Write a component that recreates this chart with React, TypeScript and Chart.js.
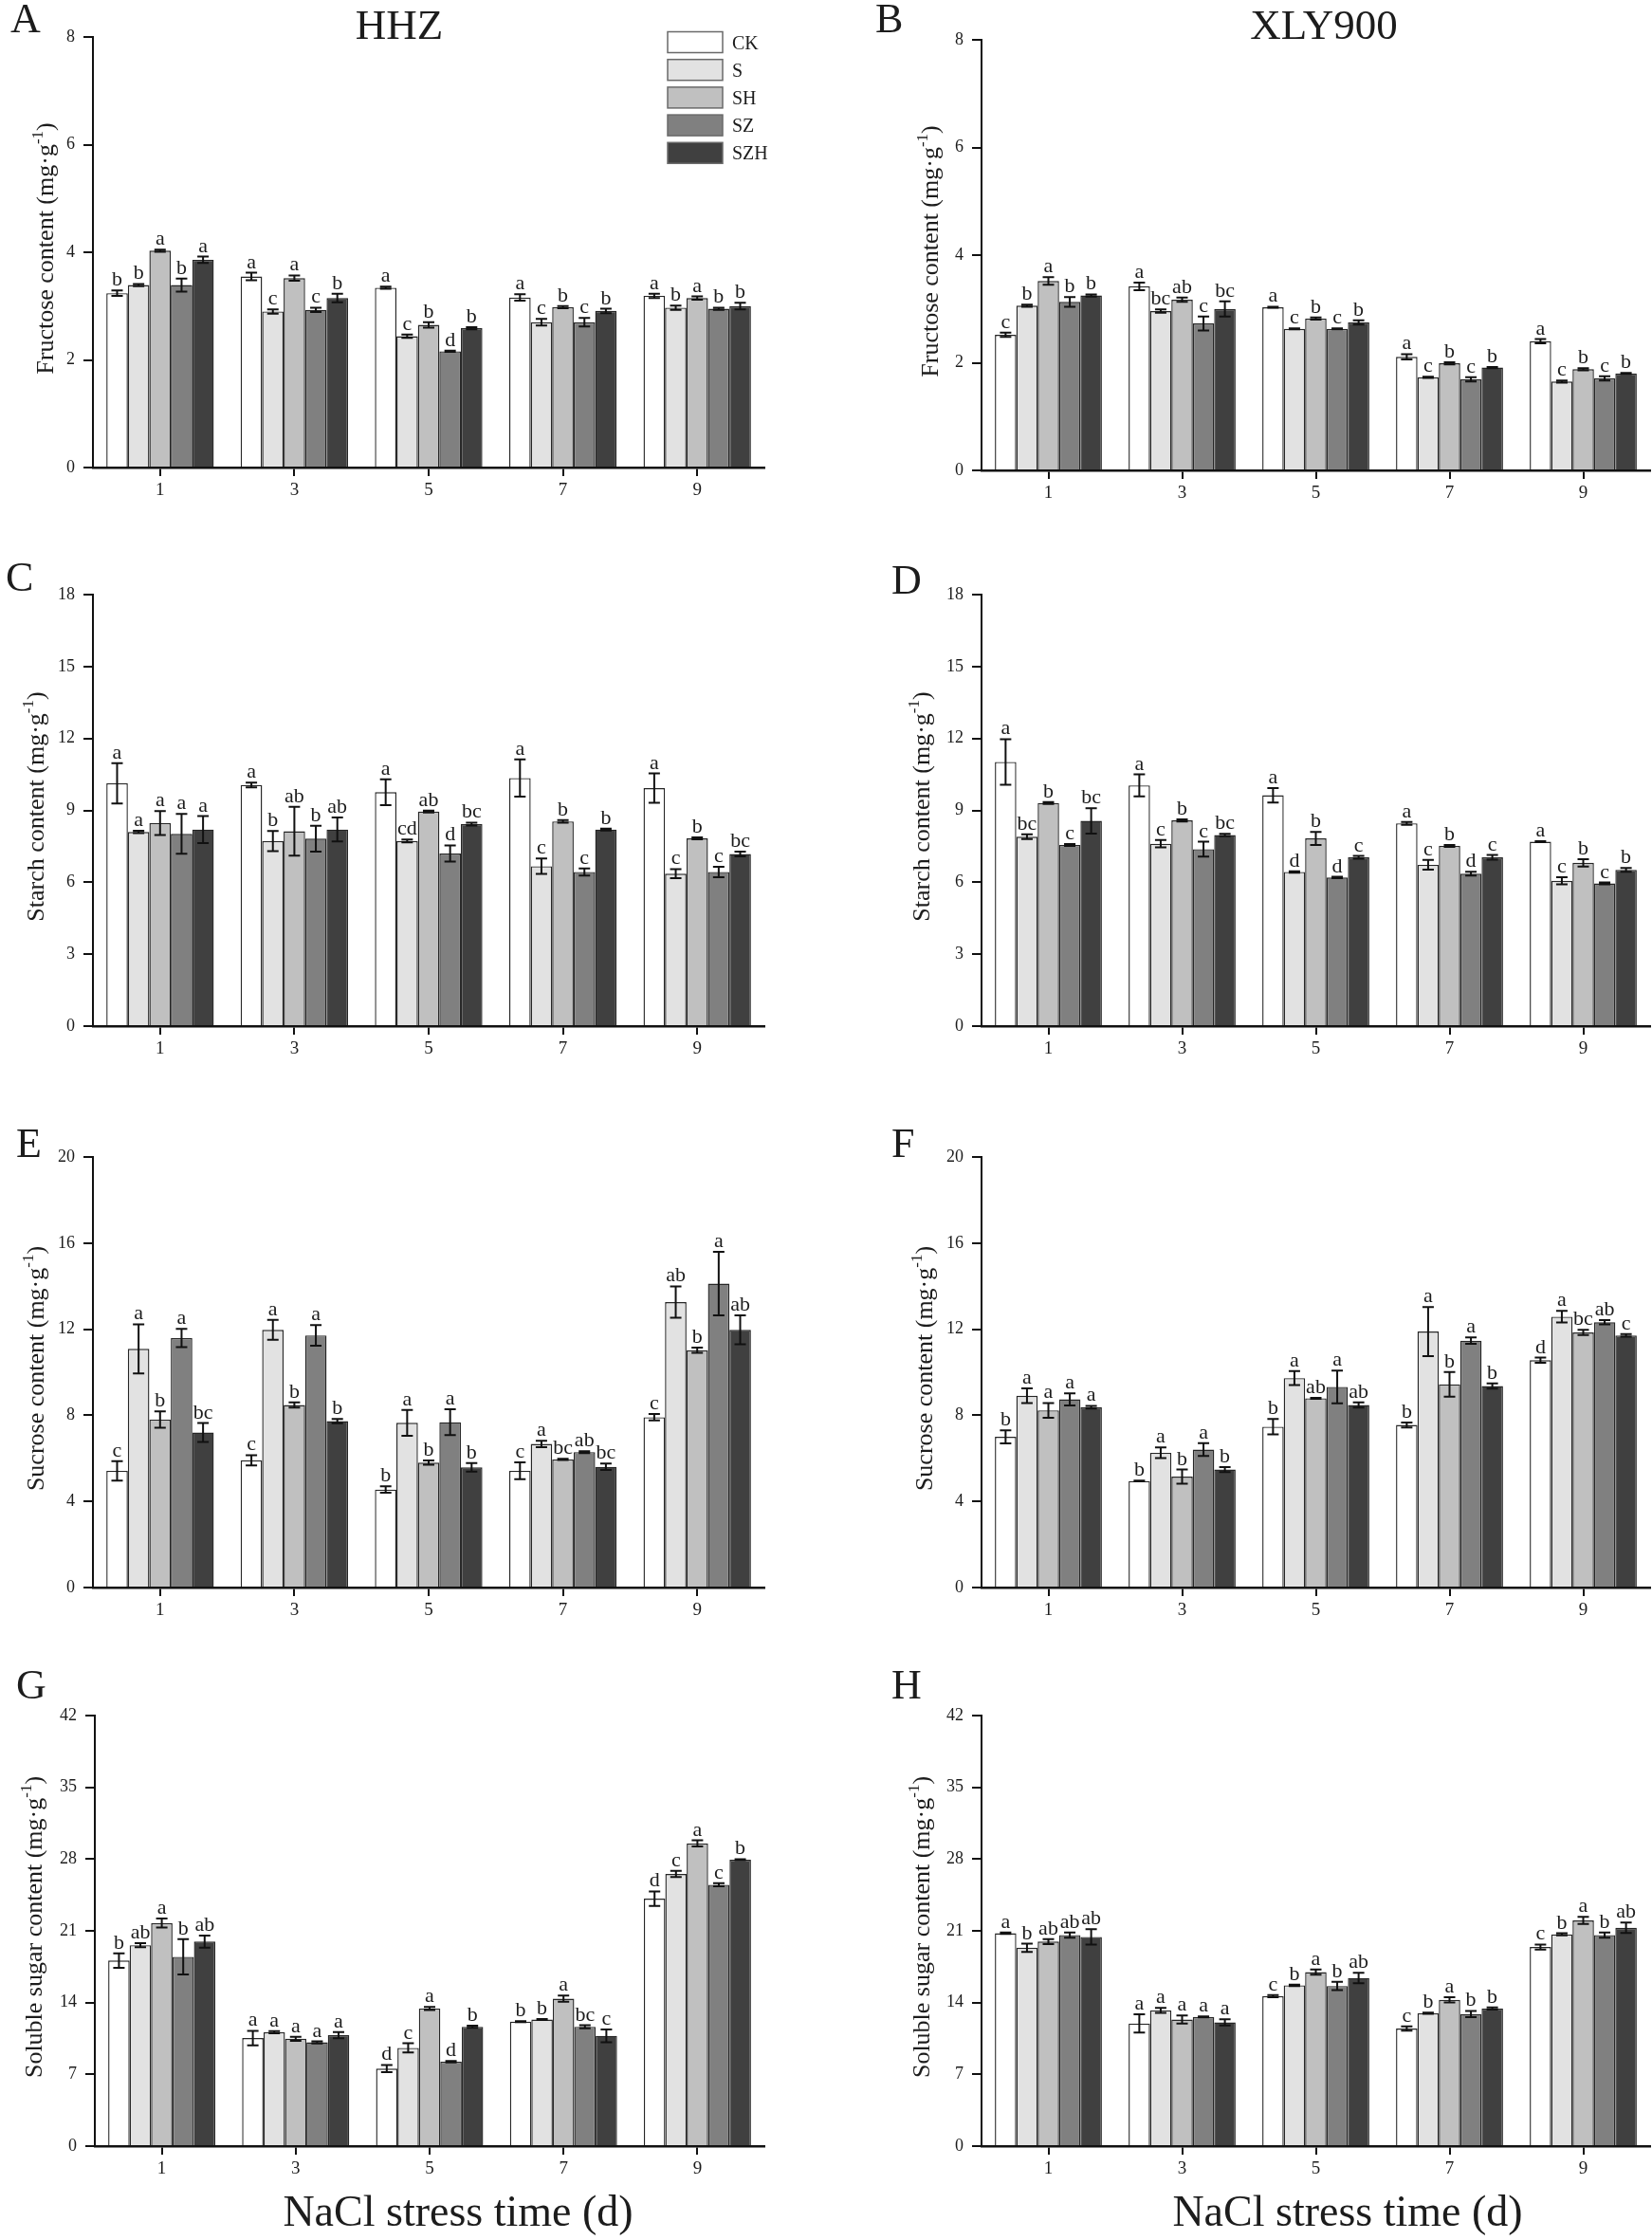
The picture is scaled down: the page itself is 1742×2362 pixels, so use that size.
import React, { useEffect, useRef } from 'react';
import { Chart, registerables } from 'chart.js';

Chart.register(...registerables);

const FONT = '"Liberation Serif", "Times New Roman", serif';

// ---------- categories / series ----------
const days = ['1', '3', '5', '7', '9'];
const treatments = ['CK', 'S', 'SH', 'SZ', 'SZH'];
const barColors = ['#ffffff', '#e2e2e2', '#c0c0c0', '#808080', '#404040'];

// ---------- A: HHZ fructose (rows = CK, S, SH, SZ, SZH; cols = day 1,3,5,7,9) ----------
const fructoseHHZ = [
  [3.24, 3.55, 3.34, 3.16, 3.19],
  [3.39, 2.90, 2.44, 2.70, 2.97],
  [4.03, 3.52, 2.65, 2.98, 3.15],
  [3.39, 2.93, 2.16, 2.70, 2.95],
  [3.86, 3.15, 2.59, 2.91, 3.00],
];
const fructoseHHZErr = [
  [0.05, 0.07, 0.02, 0.06, 0.04],
  [0.02, 0.04, 0.03, 0.06, 0.04],
  [0.02, 0.05, 0.05, 0.02, 0.03],
  [0.12, 0.04, 0.01, 0.08, 0.02],
  [0.06, 0.08, 0.02, 0.04, 0.06],
];
const fructoseHHZSig = [
  ['b', 'a', 'a', 'a', 'a'],
  ['b', 'c', 'c', 'c', 'b'],
  ['a', 'a', 'b', 'b', 'a'],
  ['b', 'c', 'd', 'c', 'b'],
  ['a', 'b', 'b', 'b', 'b'],
];

// ---------- B: XLY900 fructose ----------
const fructoseXLY = [
  [2.52, 3.42, 3.03, 2.11, 2.40],
  [3.06, 2.96, 2.63, 1.73, 1.65],
  [3.52, 3.17, 2.82, 1.99, 1.88],
  [3.13, 2.73, 2.63, 1.69, 1.71],
  [3.25, 3.00, 2.75, 1.91, 1.80],
];
const fructoseXLYErr = [
  [0.04, 0.07, 0.01, 0.05, 0.04],
  [0.02, 0.03, 0.01, 0.01, 0.02],
  [0.07, 0.04, 0.02, 0.02, 0.02],
  [0.09, 0.13, 0.01, 0.04, 0.04],
  [0.02, 0.14, 0.04, 0.01, 0.01],
];
const fructoseXLYSig = [
  ['c', 'a', 'a', 'a', 'a'],
  ['b', 'bc', 'c', 'c', 'c'],
  ['a', 'ab', 'b', 'b', 'b'],
  ['b', 'c', 'c', 'c', 'c'],
  ['b', 'bc', 'b', 'b', 'b'],
];

// ---------- C: HHZ starch ----------
const starchHHZ = [
  [10.13, 10.06, 9.76, 10.35, 9.93],
  [8.10, 7.72, 7.72, 6.67, 6.36],
  [8.47, 8.13, 8.95, 8.54, 7.83],
  [8.02, 7.82, 7.20, 6.43, 6.43],
  [8.20, 8.20, 8.43, 8.20, 7.18],
];
const starchHHZErr = [
  [0.84, 0.10, 0.54, 0.78, 0.61],
  [0.05, 0.42, 0.06, 0.32, 0.19],
  [0.50, 1.02, 0.04, 0.05, 0.04],
  [0.83, 0.54, 0.34, 0.15, 0.22],
  [0.56, 0.50, 0.06, 0.04, 0.10],
];
const starchHHZSig = [
  ['a', 'a', 'a', 'a', 'a'],
  ['a', 'b', 'cd', 'c', 'c'],
  ['a', 'ab', 'ab', 'b', 'b'],
  ['a', 'b', 'd', 'c', 'c'],
  ['a', 'ab', 'bc', 'b', 'bc'],
];

// ---------- D: XLY900 starch ----------
const starchXLY = [
  [11.02, 10.04, 9.63, 8.46, 7.69],
  [7.90, 7.61, 6.43, 6.73, 6.06],
  [9.31, 8.58, 7.83, 7.52, 6.81],
  [7.56, 7.38, 6.20, 6.36, 5.95],
  [8.56, 7.97, 7.04, 7.04, 6.52],
];
const starchXLYErr = [
  [0.95, 0.46, 0.30, 0.06, 0.02],
  [0.10, 0.15, 0.03, 0.20, 0.15],
  [0.04, 0.04, 0.27, 0.04, 0.15],
  [0.04, 0.31, 0.03, 0.08, 0.04],
  [0.53, 0.05, 0.06, 0.10, 0.08],
];
const starchXLYSig = [
  ['a', 'a', 'a', 'a', 'a'],
  ['bc', 'c', 'd', 'c', 'c'],
  ['b', 'b', 'b', 'b', 'b'],
  ['c', 'c', 'd', 'd', 'c'],
  ['bc', 'bc', 'c', 'c', 'b'],
];

// ---------- E: HHZ sucrose ----------
const sucroseHHZ = [
  [5.42, 5.91, 4.55, 5.42, 7.91],
  [11.09, 11.97, 7.65, 6.67, 13.26],
  [7.80, 8.48, 5.80, 5.95, 11.02],
  [11.59, 11.71, 7.68, 6.29, 14.12],
  [7.20, 7.73, 5.58, 5.61, 11.97],
];
const sucroseHHZErr = [
  [0.45, 0.24, 0.15, 0.39, 0.15],
  [1.14, 0.46, 0.60, 0.15, 0.73],
  [0.38, 0.12, 0.10, 0.03, 0.12],
  [0.42, 0.48, 0.60, 0.04, 1.48],
  [0.44, 0.10, 0.20, 0.15, 0.67],
];
const sucroseHHZSig = [
  ['c', 'c', 'b', 'c', 'c'],
  ['a', 'a', 'a', 'a', 'ab'],
  ['b', 'b', 'b', 'bc', 'b'],
  ['a', 'a', 'a', 'ab', 'a'],
  ['bc', 'b', 'b', 'bc', 'ab'],
];

// ---------- F: XLY900 sucrose ----------
const sucroseXLY = [
  [7.00, 4.95, 7.47, 7.55, 10.56],
  [8.91, 6.26, 9.73, 11.89, 12.58],
  [8.23, 5.15, 8.79, 9.44, 11.85],
  [8.74, 6.41, 9.32, 11.47, 12.32],
  [8.38, 5.48, 8.48, 9.36, 11.71],
];
const sucroseXLYErr = [
  [0.30, 0.02, 0.36, 0.12, 0.12],
  [0.34, 0.25, 0.33, 1.14, 0.27],
  [0.34, 0.33, 0.02, 0.57, 0.12],
  [0.28, 0.30, 0.76, 0.15, 0.10],
  [0.06, 0.12, 0.12, 0.12, 0.06],
];
const sucroseXLYSig = [
  ['b', 'b', 'b', 'b', 'd'],
  ['a', 'a', 'a', 'a', 'a'],
  ['a', 'b', 'ab', 'b', 'bc'],
  ['a', 'a', 'a', 'a', 'ab'],
  ['a', 'b', 'ab', 'b', 'c'],
];

// ---------- G: HHZ soluble sugar ----------
const sugarHHZ = [
  [18.10, 10.54, 7.56, 12.14, 24.14],
  [19.60, 11.11, 9.58, 12.35, 26.55],
  [21.76, 10.47, 13.42, 14.38, 29.53],
  [18.46, 10.12, 8.24, 11.64, 25.49],
  [19.95, 10.83, 11.64, 10.76, 27.94],
];
const sugarHHZErr = [
  [0.71, 0.71, 0.35, 0.05, 0.71],
  [0.20, 0.10, 0.45, 0.05, 0.30],
  [0.44, 0.20, 0.15, 0.30, 0.30],
  [1.72, 0.10, 0.07, 0.15, 0.15],
  [0.59, 0.30, 0.10, 0.62, 0.05],
];
const sugarHHZSig = [
  ['b', 'a', 'd', 'b', 'd'],
  ['ab', 'a', 'c', 'b', 'c'],
  ['a', 'a', 'a', 'a', 'a'],
  ['b', 'a', 'd', 'bc', 'c'],
  ['ab', 'a', 'b', 'c', 'b'],
];

// ---------- H: XLY900 soluble sugar ----------
const sugarXLY = [
  [20.77, 11.96, 14.63, 11.47, 19.42],
  [19.35, 13.24, 15.69, 12.96, 20.66],
  [19.95, 12.35, 16.97, 14.27, 22.01],
  [20.59, 12.60, 15.62, 12.89, 20.59],
  [20.41, 12.07, 16.40, 13.42, 21.30],
];
const sugarXLYErr = [
  [0.07, 0.89, 0.10, 0.20, 0.25],
  [0.40, 0.25, 0.07, 0.05, 0.10],
  [0.25, 0.40, 0.25, 0.25, 0.35],
  [0.25, 0.05, 0.40, 0.30, 0.25],
  [0.76, 0.30, 0.50, 0.10, 0.50],
];
const sugarXLYSig = [
  ['a', 'a', 'c', 'c', 'c'],
  ['b', 'a', 'b', 'b', 'b'],
  ['ab', 'a', 'a', 'a', 'a'],
  ['ab', 'a', 'b', 'b', 'b'],
  ['ab', 'a', 'ab', 'b', 'ab'],
];

// ---------- axis settings ----------
const yMaxFructose = 8, yStepFructose = 2;
const yMaxStarch = 18, yStepStarch = 3;
const yMaxSucrose = 20, yStepSucrose = 4;
const yMaxSugar = 42, yStepSugar = 7;

const xAxisTitle = 'NaCl stress time (d)';
const unitMain = ' (mg·g';
const unitSup = '-1';
const unitEnd = ')';

type Box = { l: number; t: number; r: number; b: number };
type PanelCfg = {
  tag: string;
  title?: string;
  yLabel: string;
  yMax: number;
  yStep: number;
  values: number[][];
  errors: number[][];
  sig: string[][];
  canvas: { x: number; y: number; w: number; h: number };
  plot: Box;
  tagPos: { x: number; y: number };
  titlePos?: { x: number; y: number };
  yTitleX: number;
  xTitlePos?: { x: number; y: number };
  legend?: boolean;
};

const panels: PanelCfg[] = [
  {
    tag: 'A', title: 'HHZ', yLabel: 'Fructose content', yMax: yMaxFructose, yStep: yStepFructose,
    values: fructoseHHZ, errors: fructoseHHZErr, sig: fructoseHHZSig,
    canvas: { x: 0, y: 0, w: 870, h: 560 }, plot: { l: 98, t: 39, r: 806, b: 493 },
    tagPos: { x: 11, y: 34 }, titlePos: { x: 421, y: 41 }, yTitleX: 47, legend: true,
  },
  {
    tag: 'B', title: 'XLY900', yLabel: 'Fructose content', yMax: yMaxFructose, yStep: yStepFructose,
    values: fructoseXLY, errors: fructoseXLYErr, sig: fructoseXLYSig,
    canvas: { x: 870, y: 0, w: 872, h: 560 }, plot: { l: 1035, t: 42, r: 1740, b: 496 },
    tagPos: { x: 923, y: 34 }, titlePos: { x: 1396, y: 41 }, yTitleX: 980,
  },
  {
    tag: 'C', yLabel: 'Starch content', yMax: yMaxStarch, yStep: yStepStarch,
    values: starchHHZ, errors: starchHHZErr, sig: starchHHZSig,
    canvas: { x: 0, y: 560, w: 870, h: 580 }, plot: { l: 98, t: 627, r: 806, b: 1082 },
    tagPos: { x: 6, y: 623 }, yTitleX: 37,
  },
  {
    tag: 'D', yLabel: 'Starch content', yMax: yMaxStarch, yStep: yStepStarch,
    values: starchXLY, errors: starchXLYErr, sig: starchXLYSig,
    canvas: { x: 870, y: 560, w: 872, h: 580 }, plot: { l: 1035, t: 627, r: 1740, b: 1082 },
    tagPos: { x: 940, y: 626 }, yTitleX: 971,
  },
  {
    tag: 'E', yLabel: 'Sucrose content', yMax: yMaxSucrose, yStep: yStepSucrose,
    values: sucroseHHZ, errors: sucroseHHZErr, sig: sucroseHHZSig,
    canvas: { x: 0, y: 1140, w: 870, h: 590 }, plot: { l: 98, t: 1220, r: 806, b: 1674 },
    tagPos: { x: 17, y: 1220 }, yTitleX: 37,
  },
  {
    tag: 'F', yLabel: 'Sucrose content', yMax: yMaxSucrose, yStep: yStepSucrose,
    values: sucroseXLY, errors: sucroseXLYErr, sig: sucroseXLYSig,
    canvas: { x: 870, y: 1140, w: 872, h: 590 }, plot: { l: 1035, t: 1220, r: 1740, b: 1674 },
    tagPos: { x: 940, y: 1220 }, yTitleX: 974,
  },
  {
    tag: 'G', yLabel: 'Soluble sugar content', yMax: yMaxSugar, yStep: yStepSugar,
    values: sugarHHZ, errors: sugarHHZErr, sig: sugarHHZSig,
    canvas: { x: 0, y: 1730, w: 870, h: 632 }, plot: { l: 100, t: 1809, r: 806, b: 2263 },
    tagPos: { x: 17, y: 1791 }, yTitleX: 35, xTitlePos: { x: 483, y: 2347 },
  },
  {
    tag: 'H', yLabel: 'Soluble sugar content', yMax: yMaxSugar, yStep: yStepSugar,
    values: sugarXLY, errors: sugarXLYErr, sig: sugarXLYSig,
    canvas: { x: 870, y: 1730, w: 872, h: 632 }, plot: { l: 1035, t: 1809, r: 1740, b: 2263 },
    tagPos: { x: 940, y: 1791 }, yTitleX: 971, xTitlePos: { x: 1421, y: 2347 },
  },
];

const INK = '#1c1c1c';

function makeDecor(p: PanelCfg) {
  const ox = p.canvas.x;
  const oy = p.canvas.y;
  return {
    id: 'decor' + p.tag,
    afterDatasetsDraw(chart: any) {
      const ctx = chart.ctx;
      const ys = chart.scales.y;
      ctx.save();
      ctx.strokeStyle = '#111';
      ctx.lineWidth = 2;
      ctx.fillStyle = INK;
      ctx.font = `22px ${FONT}`;
      ctx.textAlign = 'center';
      ctx.textBaseline = 'alphabetic';
      p.values.forEach((row, di) => {
        const meta = chart.getDatasetMeta(di);
        row.forEach((v, i) => {
          const bar = meta.data[i];
          if (!bar) return;
          const x = bar.x;
          const e = p.errors[di][i];
          const yt = ys.getPixelForValue(v + e);
          const yb = ys.getPixelForValue(v - e);
          const cap = 6;
          ctx.beginPath();
          ctx.moveTo(x, yt);
          ctx.lineTo(x, yb);
          ctx.moveTo(x - cap, yt);
          ctx.lineTo(x + cap, yt);
          ctx.moveTo(x - cap, yb);
          ctx.lineTo(x + cap, yb);
          ctx.stroke();
          ctx.fillText(p.sig[di][i], x, yt - 5);
        });
      });
      ctx.restore();
    },
    afterDraw(chart: any) {
      const ctx = chart.ctx;
      ctx.save();
      ctx.fillStyle = INK;
      ctx.textBaseline = 'alphabetic';
      // panel tag
      ctx.font = `44px ${FONT}`;
      ctx.textAlign = 'left';
      ctx.fillText(p.tag, p.tagPos.x - ox, p.tagPos.y - oy);
      // panel title
      if (p.title && p.titlePos) {
        ctx.font = `45px ${FONT}`;
        ctx.textAlign = 'center';
        ctx.fillText(p.title, p.titlePos.x - ox, p.titlePos.y - oy);
      }
      // x title
      if (p.xTitlePos) {
        ctx.font = `46px ${FONT}`;
        ctx.textAlign = 'center';
        ctx.fillText(xAxisTitle, p.xTitlePos.x - ox, p.xTitlePos.y - oy);
      }
      // y title with superscript
      {
        const main = p.yLabel + unitMain;
        const big = `26px ${FONT}`;
        const small = `17px ${FONT}`;
        ctx.font = big;
        const w1 = ctx.measureText(main).width;
        const w3 = ctx.measureText(unitEnd).width;
        ctx.font = small;
        const w2 = ctx.measureText(unitSup).width;
        const total = w1 + w2 + w3;
        const cx = p.yTitleX - ox;
        const cy = (p.plot.t + p.plot.b) / 2 - 4 - oy;
        ctx.translate(cx, cy);
        ctx.rotate(-Math.PI / 2);
        ctx.textAlign = 'left';
        const x0 = -total / 2;
        const base = 9;
        ctx.font = big;
        ctx.fillText(main, x0, base);
        ctx.font = small;
        ctx.fillText(unitSup, x0 + w1, base - 11);
        ctx.font = big;
        ctx.fillText(unitEnd, x0 + w1 + w2, base);
        ctx.setTransform(1, 0, 0, 1, 0, 0);
      }
      // legend
      if (p.legend) {
        const bx = 704 - ox;
        const top0 = 33.5 - oy;
        const gap = 29.2;
        treatments.forEach((t, i) => {
          const y = top0 + i * gap;
          ctx.fillStyle = barColors[i];
          ctx.fillRect(bx, y, 58, 22);
          ctx.strokeStyle = '#6a6a6a';
          ctx.lineWidth = 1.5;
          ctx.strokeRect(bx, y, 58, 22);
          ctx.fillStyle = INK;
          ctx.font = `20px ${FONT}`;
          ctx.textAlign = 'left';
          ctx.fillText(t, 772 - ox, y + 18);
        });
      }
      ctx.restore();
    },
  };
}

function Panel({ p }: { p: PanelCfg }) {
  const ref = useRef<HTMLCanvasElement | null>(null);
  useEffect(() => {
    const canvas = ref.current;
    if (!canvas) return;
    const yWidth = p.plot.l - p.canvas.x;
    const xHeight = p.canvas.y + p.canvas.h - p.plot.b;
    const chart = new Chart(canvas, {
      type: 'bar',
      data: {
        labels: days,
        datasets: treatments.map((t, i) => ({
          label: t,
          data: p.values[i],
          backgroundColor: barColors[i],
          borderColor: '#262626',
          borderWidth: 1.4,
          categoryPercentage: 0.8,
          barPercentage: 1,
        })),
      },
      options: {
        responsive: false,
        maintainAspectRatio: false,
        animation: false,
        devicePixelRatio: 1,
        layout: {
          padding: {
            top: p.plot.t - p.canvas.y,
            right: p.canvas.x + p.canvas.w - p.plot.r,
            left: 0,
            bottom: 0,
          },
        },
        plugins: {
          legend: { display: false },
          tooltip: { enabled: false },
          title: { display: false },
        },
        scales: {
          x: {
            type: 'category',
            offset: true,
            z: 1,
            grid: {
              display: true,
              offset: false,
              drawOnChartArea: false,
              drawTicks: true,
              tickLength: 9,
              color: '#111',
              lineWidth: 2,
            },
            border: { display: true, color: '#111', width: 2.5 },
            ticks: {
              color: INK,
              font: { family: FONT, size: 19 },
              padding: 4,
              maxRotation: 0,
            },
            afterFit: (s: any) => {
              s.height = xHeight;
            },
          },
          y: {
            min: 0,
            max: p.yMax,
            z: 1,
            grid: {
              display: true,
              drawOnChartArea: false,
              drawTicks: true,
              tickLength: 10,
              color: '#111',
              lineWidth: 2,
            },
            border: { display: true, color: '#111', width: 2 },
            ticks: {
              stepSize: p.yStep,
              color: INK,
              font: { family: FONT, size: 18 },
              padding: 9,
            },
            afterFit: (s: any) => {
              s.width = yWidth;
            },
          },
        },
      } as any,
      plugins: [makeDecor(p)],
    });
    return () => chart.destroy();
  }, [p]);
  return (
    <canvas
      ref={ref}
      width={p.canvas.w}
      height={p.canvas.h}
      style={{
        position: 'absolute',
        left: p.canvas.x,
        top: p.canvas.y,
        width: p.canvas.w,
        height: p.canvas.h,
      }}
    />
  );
}

export default function App() {
  return (
    <div
      style={{
        position: 'absolute',
        left: 0,
        top: 0,
        width: 1742,
        height: 2362,
        background: '#ffffff',
        overflow: 'hidden',
      }}
    >
      {panels.map((p) => (
        <Panel key={p.tag} p={p} />
      ))}
    </div>
  );
}
